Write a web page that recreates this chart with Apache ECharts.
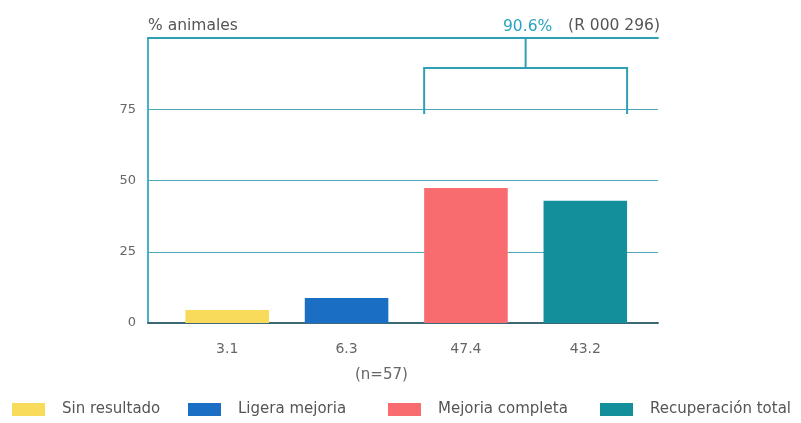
<!DOCTYPE html>
<html>
<head>
<meta charset="utf-8">
<script src="https://cdn.jsdelivr.net/npm/echarts@6/dist/echarts.min.js"></script>
<style>
  html, body { margin: 0; padding: 0; background: #fff; }
  #chart { width: 801px; height: 423px; }
</style>
</head>
<body>
<div id="chart"></div>
<script>
// data
const categories = ["3.1", "6.3", "47.4", "43.2"];
const seriesNames = ["Sin resultado", "Ligera mejoria", "Mejoria completa", "Recuperación total"];
const barValues = [4.6, 8.8, 47.4, 42.9];
const barColors = ["#f8db5a", "#1a6fc4", "#f86b6f", "#128f9b"];
const yTicks = { min: 0, max: 100, interval: 25 };
// bracket over the last two bars: [fromIdx, toIdx, barTop, legBottom, axisTop]
const bracket = [[2, 3, 89.5, 73.3, 100]];
const bracketLabel = "90.6%";
const legendLeft = [12, 188, 388, 600];

const FONT = "DejaVu Sans";
const GREY = "#666";
const TEAL = "#2f9fb4";

const chart = echarts.init(document.getElementById("chart"));

const bars = seriesNames.map((name, i) => ({
  name: name,
  type: "bar",
  xAxisIndex: 1,
  yAxisIndex: 1,
  stack: "one",
  barWidth: "70%",
  itemStyle: { color: barColors[i] },
  data: categories.map((c, j) => (j === i ? barValues[i] : "-")),
  z: 3,
}));

const bracketSeries = {
  type: "custom",
  xAxisIndex: 1,
  yAxisIndex: 1,
  silent: true,
  z: 4,
  data: bracket,
  renderItem: (params, api) => {
    const half = api.size([1, 0])[0] * 0.35;
    const yH = api.coord([0, api.value(2)])[1];
    const yB = api.coord([0, api.value(3)])[1];
    const yT = api.coord([0, api.value(4)])[1];
    const xl = api.coord([api.value(0), 0])[0] - half;
    const xr = api.coord([api.value(1), 0])[0] + half;
    const xm = (xl + xr) / 2;
    const lineStyle = { stroke: TEAL, lineWidth: 2, fill: null };
    return {
      type: "group",
      children: [
        { type: "polyline", shape: { points: [[xl, yB], [xl, yH], [xr, yH], [xr, yB]] }, style: lineStyle },
        { type: "line", shape: { x1: xm, y1: yT, x2: xm, y2: yH }, style: lineStyle },
        {
          type: "text",
          x: xm + 2,
          y: yT - 11,
          style: { text: bracketLabel, fill: "#2aa3c2", font: "15.5px " + FONT, align: "center", verticalAlign: "middle" },
        },
      ],
    };
  },
};

const option = {
  animation: false,
  textStyle: { fontFamily: FONT },
  grid: [
    { left: 148, right: 143, top: 38, bottom: 100 },
    { left: 167.5, right: 156, top: 38, bottom: 100 },
  ],
  legend: seriesNames.map((name, i) => ({
    data: [name],
    left: legendLeft[i],
    top: 402,
    padding: 0,
    itemWidth: 33,
    itemHeight: 13,
    icon: "rect",
    selectedMode: false,
    textStyle: { color: "#555", fontSize: 15, fontFamily: FONT, padding: [0, 0, 0, 12] },
  })),
  xAxis: [
    {
      type: "category",
      gridIndex: 0,
      data: categories,
      axisLine: { lineStyle: { color: "#3d6878", width: 2 } },
      axisTick: { show: false },
      axisLabel: { show: false },
    },
    {
      type: "category",
      gridIndex: 1,
      data: categories,
      axisLine: { show: false },
      axisTick: { show: false },
      axisLabel: { color: GREY, fontSize: 14, margin: 19 },
    },
    {
      type: "category",
      gridIndex: 0,
      position: "top",
      data: categories,
      axisLine: { lineStyle: { color: TEAL, width: 2 } },
      axisTick: { show: false },
      axisLabel: { show: false },
    },
  ],
  yAxis: [
    {
      type: "value",
      gridIndex: 0,
      min: yTicks.min,
      max: yTicks.max,
      interval: yTicks.interval,
      axisLine: { show: true, lineStyle: { color: "#45b3c7", width: 2 } },
      axisTick: { show: false },
      axisLabel: {
        color: GREY,
        fontSize: 13,
        margin: 12,
        formatter: (v) => (v === yTicks.max ? "" : v),
      },
      splitLine: { lineStyle: { color: "#4aa9b9", width: 1 } },
      name: "% animales",
      nameLocation: "end",
      nameGap: 4,
      nameTextStyle: { color: "#555", fontSize: 15.5, align: "left", verticalAlign: "bottom" },
    },
    {
      type: "value",
      gridIndex: 1,
      min: yTicks.min,
      max: yTicks.max,
      interval: yTicks.interval,
      show: false,
    },
  ],
  graphic: [
    {
      type: "text",
      right: 141,
      top: 18,
      style: { text: "(R 000 296)", fill: "#555", font: "15.5px " + FONT },
    },
    {
      type: "text",
      left: 355,
      top: 368,
      style: { text: "(n=57)", fill: GREY, font: "15px " + FONT },
    },
  ],
  series: [...bars, bracketSeries],
};

chart.setOption(option);
</script>
</body>
</html>
